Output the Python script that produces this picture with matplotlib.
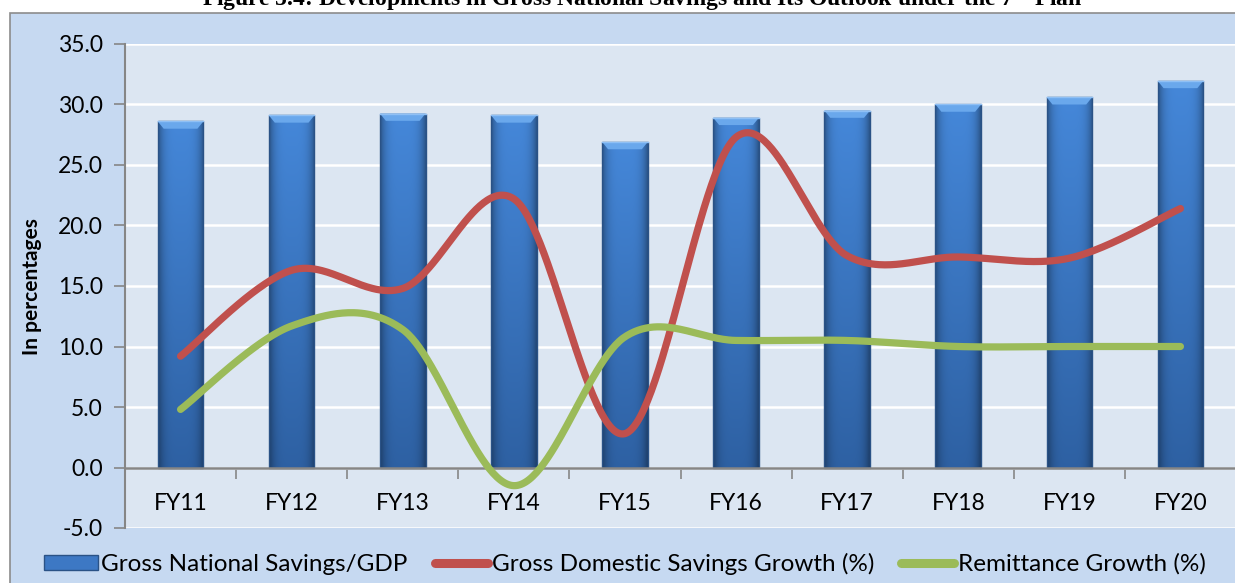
import numpy as np
import matplotlib
matplotlib.use("Agg")
import matplotlib.pyplot as plt
from matplotlib.patches import Rectangle, Polygon
from matplotlib.lines import Line2D

categories = ["FY11", "FY12", "FY13", "FY14", "FY15", "FY16", "FY17", "FY18", "FY19", "FY20"]
gns_gdp = [28.6, 29.1, 29.25, 29.1, 26.9, 28.9, 29.5, 30.0, 30.6, 31.95]
gds_growth = [9.2, 16.3, 14.8, 22.2, 2.8, 27.3, 17.5, 17.4, 17.3, 21.4]
remit_growth = [4.8, 11.7, 11.4, -1.5, 10.8, 10.5, 10.5, 10.0, 10.0, 10.0]
yticks = [-5.0, 0.0, 5.0, 10.0, 15.0, 20.0, 25.0, 30.0, 35.0]

W, H = 1235, 583
FONT = ["Lato", "DejaVu Sans"]
plt.rcParams['font.family'] = FONT
plt.rcParams['mathtext.fontset'] = 'stix'

fig = plt.figure(figsize=(W / 100, H / 100), dpi=100)
fig.patch.set_facecolor("white")

# outer chart frame
frame = Rectangle((10 / W, -0.1), 1.2, 1 - 13 / H + 0.1, transform=fig.transFigure,
                  facecolor="#c6d9f1", edgecolor="#8c8c8c", lw=1.2, zorder=-10)
fig.patches.append(frame)

# title (clipped at top in the reference)
fig.text(642 / W, 1 - 5 / H, r"Figure 5.4: Developments in Gross National Savings and Its Outlook under the 7$^{\mathbf{th}}$ Plan",
         ha="center", va="baseline", fontsize=17, fontweight="bold", family="Liberation Serif", color="black")

left, right, top, bottom = 125, 1236, 44, 528
ax = fig.add_axes([left / W, 1 - bottom / H, (right - left) / W, (bottom - top) / H])
ax.set_zorder(1)
ax.set_facecolor("#dce6f2")

x = np.arange(len(categories))

# bars with bevel look
bw = 0.41
top_c = np.array([0.27, 0.53, 0.85])
bot_c = np.array([0.18, 0.38, 0.64])
for xi, v in zip(x, gns_gdp):
    x0, x1 = xi - bw / 2, xi + bw / 2
    rect = Rectangle((x0, 0), bw, v, facecolor="none", edgecolor="#2a5286", lw=1.0, zorder=2)
    ax.add_patch(rect)
    ny, nx = 60, 40
    t = np.linspace(0, 1, ny)[:, None]
    u = np.linspace(0, 1, nx)[None, :]
    shade = 1 - 0.35 * np.abs(2 * u - 1) ** 4
    img = (top_c[None, None, :] * (1 - t[..., None]) + bot_c[None, None, :] * t[..., None]) * shade[..., None]
    im = ax.imshow(np.clip(img, 0, 1), extent=(x0, x1, 0, v), aspect="auto", zorder=1.5, interpolation="bilinear")
    im.set_clip_path(rect)
    d, h = bw * 0.13, 0.6
    ax.add_patch(Polygon([(x0, v), (x1, v), (x1 - d, v - h), (x0 + d, v - h)],
                         closed=True, facecolor="#6aa8ec", edgecolor="none", zorder=2.1))
    ax.plot([x0, x1], [v, v], color="#8fc0f5", lw=1.0, zorder=2.2)


def smooth(xs, ys, n=60):
    xs = np.asarray(xs, float)
    ys = np.asarray(ys, float)
    P = np.column_stack([xs, ys])
    out = [P[0]]
    for i in range(len(P) - 1):
        p0 = P[i - 1] if i > 0 else P[i]
        p1, p2 = P[i], P[i + 1]
        p3 = P[i + 2] if i + 2 < len(P) else P[i + 1]
        c1 = p1 + (p2 - p0) / 6
        c2 = p2 - (p3 - p1) / 6
        tt = np.linspace(0, 1, n)[1:, None]
        seg = ((1 - tt) ** 3) * p1 + 3 * ((1 - tt) ** 2) * tt * c1 + 3 * (1 - tt) * tt ** 2 * c2 + tt ** 3 * p2
        out.extend(seg)
    out = np.array(out)
    return out[:, 0], out[:, 1]


sx, sy = smooth(x, gds_growth)
ax.plot(sx, sy, color="#c0504d", lw=5.2, solid_capstyle="round", solid_joinstyle="round", zorder=4)
sx, sy = smooth(x, remit_growth)
ax.plot(sx, sy, color="#9bbb59", lw=5.2, solid_capstyle="round", solid_joinstyle="round", zorder=4)

ax.set_xlim(-0.5, len(categories) - 0.5)
ax.set_ylim(-5, 35)

ax.set_yticks(yticks)
ax.set_yticklabels([f"{v:.1f}" for v in yticks])
ax.yaxis.grid(True, color="white", lw=1.8, zorder=0)
ax.set_axisbelow(True)
ax.tick_params(axis="y", length=8, width=1.2, color="#868686", pad=8, labelsize=16.5)

ax.set_xticks(x)
ax.set_xticklabels(categories)
ax.set_xticks(np.arange(len(categories) + 1) - 0.5, minor=True)
ax.tick_params(axis="x", which="major", length=0, pad=18, labelsize=16.5)
ax.tick_params(axis="x", which="minor", length=8, width=1.2, color="#868686", direction="out")

for s in ["top", "right"]:
    ax.spines[s].set_visible(False)
ax.spines["left"].set_color("#868686")
ax.spines["left"].set_linewidth(1.5)
ax.spines["bottom"].set_position(("data", 0))
ax.spines["bottom"].set_color("#868686")
ax.spines["bottom"].set_linewidth(1.8)
ax.spines["bottom"].set_zorder(3)

fig.text(32 / W, 1 - 287 / H, "In percentages", rotation=90, ha="center", va="center",
         fontsize=15, fontweight="bold")

# legend
handles = [Rectangle((0, 0), 1, 1, facecolor="#3d78c4", edgecolor="#2a5286", lw=1.0),
           Line2D([0], [0], color="#c0504d", lw=6.5, solid_capstyle="round"),
           Line2D([0], [0], color="#9bbb59", lw=6.5, solid_capstyle="round")]
labels = ["Gross National Savings/GDP", "Gross Domestic Savings Growth (%)", "Remittance Growth (%)"]
leg = fig.legend(handles, labels, loc="center", bbox_to_anchor=(625 / W, 1 - 564 / H), ncol=3,
                 frameon=False, fontsize=17.5, handlelength=2.2, handleheight=0.6,
                 handletextpad=0.15, columnspacing=1.1, borderaxespad=0)

fig.savefig("out.png", dpi=100, facecolor=fig.get_facecolor())
